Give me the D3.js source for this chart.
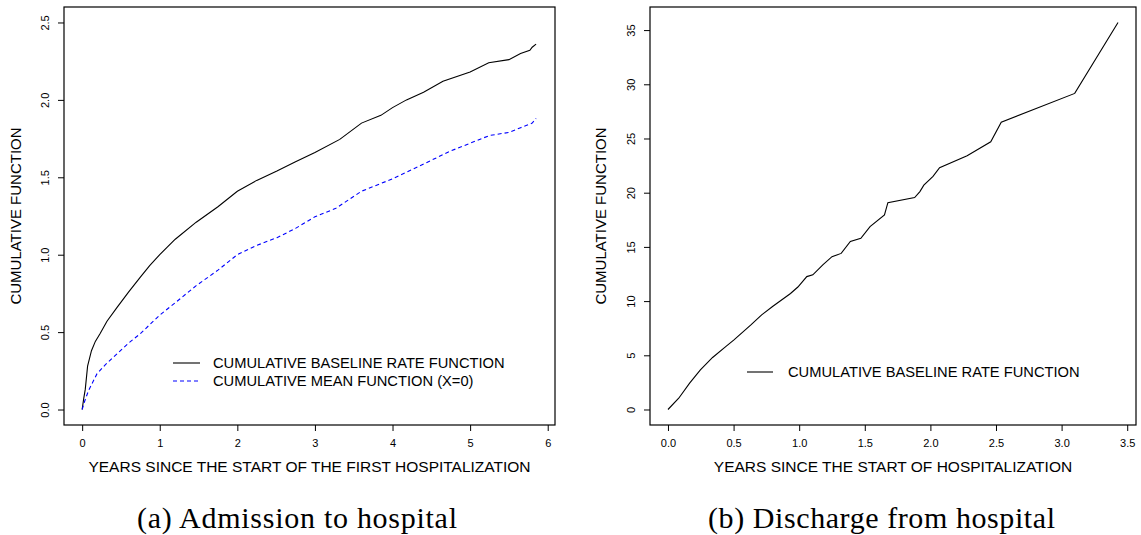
<!DOCTYPE html>
<html><head><meta charset="utf-8">
<script src="https://cdn.jsdelivr.net/npm/d3@7"></script>
<style>
body{margin:0;background:#fff;}
svg{display:block;}
text{font-family:"Liberation Sans",Arial,sans-serif;fill:#000;}
.cap{font-family:"Liberation Serif","Times New Roman",serif;}
</style></head><body>
<svg id="c" width="1141" height="535"></svg>
<script>
// ---------- data ----------
// (a) Admission to hospital
const admissionYears = [0,0.02,0.04,0.07,0.12,0.17,0.23,0.32,0.45,0.6,0.75,0.87,1.0,1.1,1.2,1.47,1.75,2.0,2.25,2.51,2.75,3.0,3.32,3.6,3.85,4.0,4.18,4.4,4.65,5.0,5.24,5.5,5.65,5.77,5.8,5.85];
const baselineRate   = [0,0.07,0.13,0.28,0.38,0.44,0.49,0.57,0.66,0.76,0.855,0.93,1.0,1.05,1.1,1.21,1.31,1.41,1.48,1.54,1.6,1.66,1.745,1.85,1.9,1.95,2.0,2.05,2.12,2.18,2.24,2.26,2.3,2.32,2.34,2.36];
const meanYears      = [0,0.03,0.08,0.19,0.3,0.45,0.6,0.75,1.0,1.2,1.47,1.75,2.0,2.25,2.51,2.75,3.0,3.27,3.6,4.0,4.25,4.5,4.75,5.0,5.25,5.5,5.65,5.8,5.85];
const meanFunction   = [0,0.05,0.12,0.23,0.29,0.36,0.43,0.49,0.61,0.69,0.8,0.9,1.0,1.06,1.11,1.17,1.245,1.3,1.41,1.49,1.55,1.61,1.67,1.72,1.77,1.79,1.82,1.85,1.88];
// (b) Discharge from hospital
const dischargeYears = [0,0.082,0.165,0.247,0.34,0.44,0.503,0.632,0.714,0.797,0.934,0.99,1.058,1.104,1.18,1.25,1.32,1.39,1.47,1.54,1.65,1.676,1.88,1.92,1.95,2.02,2.07,2.28,2.46,2.54,3.10,3.43];
const dischargeRate  = [0,1.04,2.43,3.66,4.8,5.8,6.42,7.8,8.73,9.5,10.7,11.3,12.26,12.42,13.34,14.1,14.4,15.5,15.8,16.87,17.95,19.08,19.55,20.1,20.7,21.5,22.3,23.4,24.7,26.5,29.16,35.7];

const xTicksA = [0,1,2,3,4,5,6];
const yTicksA = [0,0.5,1,1.5,2,2.5];
const xTicksB = [0,0.5,1,1.5,2,2.5,3,3.5];
const yTicksB = [0,5,10,15,20,25,30,35];

const yLabel = "CUMULATIVE FUNCTION";
const xLabelA = "YEARS SINCE THE START OF THE FIRST HOSPITALIZATION";
const xLabelB = "YEARS SINCE THE START OF HOSPITALIZATION";
const legendBaseline = "CUMULATIVE BASELINE RATE FUNCTION";
const legendMean = "CUMULATIVE MEAN FUNCTION (X=0)";
const captionA = "(a) Admission to hospital";
const captionB = "(b) Discharge from hospital";

// ---------- drawing ----------
const svg = d3.select("#c");

function panel(opt){
  const g = svg.append("g");
  const x = d3.scaleLinear().domain(opt.xd).range([opt.x0, opt.x1]);
  const y = d3.scaleLinear().domain(opt.yd).range([opt.y1, opt.y0]);

  const xa = g.append("g").attr("transform",`translate(0,${opt.y1})`)
    .call(d3.axisBottom(x).tickValues(opt.xt).tickFormat(opt.xf).tickSizeOuter(0).tickSize(6));
  xa.select(".domain").remove();
  xa.selectAll("line").attr("stroke","#000");
  xa.selectAll("text").attr("y",22).attr("dy","0").style("font-size","11px").style("font-family","Liberation Sans, Arial, sans-serif");

  const ya = g.append("g").attr("transform",`translate(${opt.x0},0)`)
    .call(d3.axisLeft(y).tickValues(opt.yt).tickFormat(opt.yf).tickSizeOuter(0).tickSize(6));
  ya.select(".domain").remove();
  ya.selectAll("line").attr("stroke","#000");
  ya.selectAll("text").attr("transform","rotate(-90)").attr("x",0).attr("y",-15).attr("dy","0")
    .style("text-anchor","middle").style("font-size","11px").style("font-family","Liberation Sans, Arial, sans-serif");

  g.append("rect").attr("x",opt.x0).attr("y",opt.y0).attr("width",opt.x1-opt.x0).attr("height",opt.y1-opt.y0)
    .attr("fill","none").attr("stroke","#000").attr("stroke-width",1.2);

  const line = d3.line().x(d=>x(d[0])).y(d=>y(d[1]));
  opt.series.forEach(s=>{
    g.append("path").datum(d3.zip(s.xs,s.ys)).attr("d",line).attr("fill","none")
      .attr("stroke",s.color).attr("stroke-width",1.1).attr("stroke-dasharray",s.dash||null);
  });

  g.append("text").attr("x",(opt.x0+opt.x1)/2).attr("y",471.5).attr("text-anchor","middle")
    .style("font-size","15.5px").text(opt.xlab);
  g.append("text").attr("transform",`translate(${opt.ylx},${(opt.y0+opt.y1)/2}) rotate(-90)`)
    .attr("text-anchor","middle").style("font-size","15px").text(yLabel);

  opt.legend.forEach((l,i)=>{
    const ly = opt.legY + i*18;
    g.append("line").attr("x1",opt.legX0).attr("x2",opt.legX1).attr("y1",ly).attr("y2",ly)
      .attr("stroke",l.color).attr("stroke-width",1.1).attr("stroke-dasharray",l.dash||null);
    g.append("text").attr("x",opt.legT).attr("y",ly+5.3).style("font-size","14.7px").text(l.label);
  });

  g.append("text").attr("class","cap").attr("x",opt.capX).attr("y",528).attr("text-anchor","middle")
    .attr("textLength",opt.capW).attr("lengthAdjust","spacing")
    .style("font-size","30px").text(opt.caption);
}

const f1 = d3.format(".1f");
panel({
  x0:64, x1:555, y0:7, y1:425,
  xd:[-0.234,6.094], yd:[-0.1,2.6],
  xt:xTicksA, yt:yTicksA, xf:d3.format("d"), yf:f1,
  series:[
    {xs:admissionYears, ys:baselineRate, color:"#000"},
    {xs:meanYears, ys:meanFunction, color:"#0000ff", dash:"4,3"}
  ],
  xlab:xLabelA, ylx:21,
  legend:[{label:legendBaseline,color:"#000"},{label:legendMean,color:"#0000ff",dash:"4,3"}],
  legY:363, legX0:173, legX1:200, legT:213,
  caption:captionA, capX:297, capW:320
});
panel({
  x0:650, x1:1136, y0:7, y1:425,
  xd:[-0.137,3.567], yd:[-1.43,37.13],
  xt:xTicksB, yt:yTicksB, xf:f1, yf:d3.format("d"),
  series:[{xs:dischargeYears, ys:dischargeRate, color:"#000"}],
  xlab:xLabelB, ylx:606,
  legend:[{label:legendBaseline,color:"#000"}],
  legY:372, legX0:747, legX1:773, legT:788,
  caption:captionB, capX:881.5, capW:347
});
</script></body></html>
